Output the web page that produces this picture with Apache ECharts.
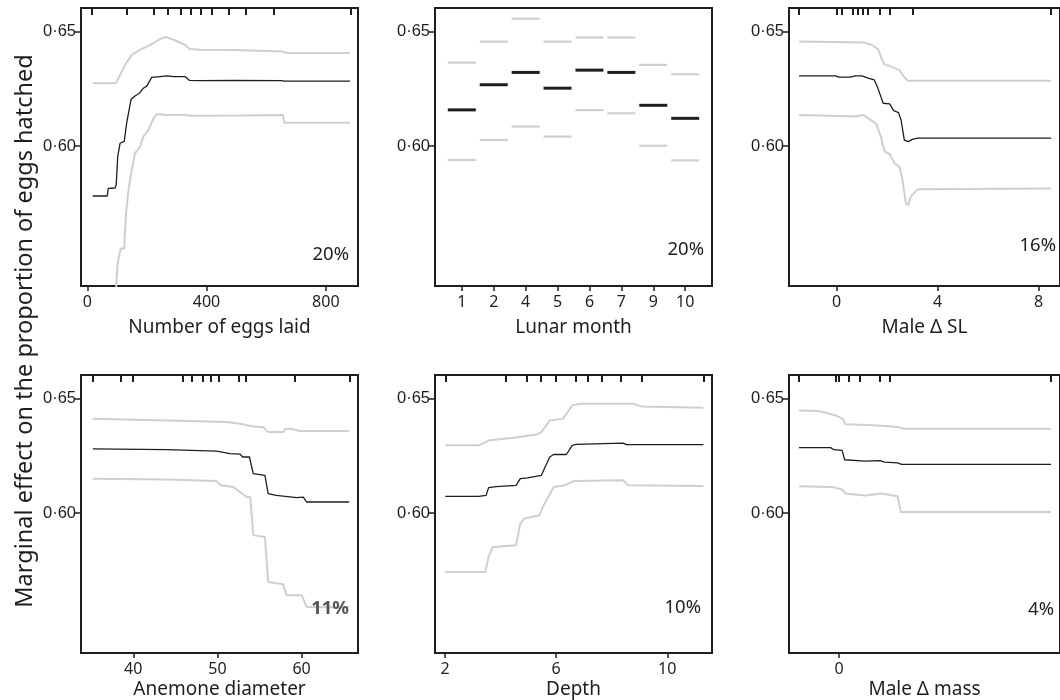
<!DOCTYPE html>
<html>
<head>
<meta charset="utf-8">
<script src="https://cdn.jsdelivr.net/npm/echarts@6/dist/echarts.min.js"></script>
<style>html,body{margin:0;padding:0;background:#fff}#c{width:1060px;height:700px}</style>
</head>
<body>
<div id="c"></div>
<script>
// ---------- DATA ----------
const yTicks = [0.60, 0.65];

// Panel 1: Number of eggs laid
const eggsTicks = [0, 400, 800];
const eggsRug = [16, 134, 222, 271, 312, 346, 379, 419, 473, 530, 624, 883];
const eggsMean = [[18,0.5781],[67,0.5781],[70,0.5814],[93,0.5816],[97,0.583],[102,0.5953],[110,0.6012],[124,0.602],[132,0.610],[147,0.6205],[160,0.6219],[175,0.6231],[188,0.6253],[200,0.6263],[216,0.630],[244,0.6304],[267,0.6307],[289,0.6304],[328,0.6304],[343,0.6287],[379,0.6286],[491,0.6287],[653,0.6286],[660,0.6284],[881,0.6284]];
const eggsUpper = [[18,0.6275],[96,0.6275],[110,0.6311],[127,0.6355],[150,0.640],[177,0.6421],[211,0.6443],[244,0.6468],[265,0.6477],[289,0.6465],[328,0.6443],[343,0.6424],[379,0.6421],[491,0.642],[653,0.6414],[670,0.6407],[881,0.6407]];
const eggsLower = [[96,0.536],[101.6,0.5486],[112,0.5551],[123.6,0.5551],[130,0.5705],[138,0.5807],[149,0.5895],[160,0.5968],[177,0.5997],[188,0.6041],[205,0.607],[222,0.6121],[233,0.614],[267,0.6136],[328,0.6136],[345,0.6132],[435,0.6132],[513,0.6133],[656,0.6136],[661,0.6102],[881,0.6102]];

// Panel 2: Lunar month
const months = ['1','2','4','5','6','7','9','10'];
const lunarMean  = [0.6158, 0.6268, 0.6322, 0.6253, 0.6332, 0.6322, 0.6178, 0.6121];
const lunarUpper = [0.6365, 0.6457, 0.6557, 0.6457, 0.6475, 0.6475, 0.6355, 0.6314];
const lunarLower = [0.5939, 0.6026, 0.6085, 0.6041, 0.6157, 0.6143, 0.6001, 0.5937];

// Panel 3: Male delta SL
const slTicks = [0, 4, 8];
const slRug = [-1.50, 0, 0.19, 0.63, 0.83, 1.02, 1.22, 1.71, 2.10, 3.0, 8.5];
const slMean = [[-1.49,0.6307],[-0.04,0.6307],[0.09,0.6301],[0.54,0.6301],[0.74,0.6307],[1.0,0.6307],[1.25,0.6297],[1.49,0.6289],[1.62,0.6257],[1.75,0.6216],[1.84,0.6187],[2.10,0.6184],[2.26,0.6155],[2.45,0.6146],[2.55,0.6114],[2.68,0.6026],[2.73,0.6019],[2.83,0.6019],[3.0,0.6029],[3.2,0.6034],[8.5,0.6034]];
const slUpper = [[-1.49,0.6457],[1.06,0.6453],[1.38,0.6443],[1.64,0.6424],[1.80,0.6377],[1.90,0.6355],[2.10,0.6351],[2.29,0.6341],[2.49,0.6333],[2.61,0.6311],[2.81,0.6285],[8.5,0.6285]];
const slLower = [[-1.49,0.6136],[0.74,0.6129],[1.06,0.6136],[1.38,0.6111],[1.57,0.6096],[1.75,0.6041],[1.90,0.5975],[2.10,0.5965],[2.29,0.5924],[2.49,0.5909],[2.61,0.5851],[2.74,0.5749],[2.83,0.5741],[2.94,0.5778],[3.2,0.581],[8.5,0.5814]];

// Panel 4: Anemone diameter
const anTicks = [40, 50, 60];
const anRug = [35.13, 38.5, 39.93, 45.87, 47.0, 48.3, 49.2, 50.2, 52.5, 53.4, 59.2, 65.7];
const anMean = [[35.18,0.6281],[43.97,0.6277],[49.9,0.6271],[51.5,0.626],[52.67,0.6258],[53.0,0.6245],[53.8,0.6245],[54.25,0.6172],[55.64,0.6165],[56.03,0.6085],[57.0,0.6077],[57.8,0.6074],[59.4,0.6067],[60.2,0.6069],[60.6,0.6048],[65.65,0.6048]];
const anUpper = [[35.18,0.6413],[47.9,0.6402],[51.1,0.6398],[52.67,0.6391],[54.25,0.6379],[55.44,0.6376],[56.03,0.6354],[57.8,0.6354],[58.13,0.6369],[58.7,0.6369],[59.8,0.6359],[65.65,0.6359]];
const anLower = [[35.18,0.615],[43.97,0.6146],[49.9,0.614],[50.38,0.6121],[51.9,0.6114],[52.67,0.6092],[53.47,0.607],[53.9,0.607],[54.25,0.5903],[55.64,0.5895],[56.03,0.5698],[57.8,0.5688],[58.2,0.564],[60.0,0.564],[60.6,0.5589],[62.2,0.5587],[65.65,0.5587]];

// Panel 5: Depth
const depTicks = [2, 6, 10];
const depRug = [2.01, 4.2, 4.96, 5.46, 5.97, 6.7, 7.14, 7.65, 8.32, 9.07, 11.3];
const depMean = [[2.01,0.6073],[3.21,0.6073],[3.48,0.6077],[3.57,0.6111],[3.84,0.6115],[4.56,0.6121],[4.71,0.615],[4.97,0.6154],[5.47,0.6165],[5.59,0.6198],[5.77,0.6245],[5.91,0.6256],[6.37,0.6256],[6.58,0.6296],[6.72,0.63],[8.41,0.6306],[8.53,0.6299],[11.3,0.6299]];
const depUpper = [[2.01,0.6296],[3.21,0.6296],[3.6,0.6318],[4.56,0.633],[5.29,0.6344],[5.47,0.6354],[5.77,0.6405],[6.25,0.6413],[6.58,0.6471],[6.85,0.6478],[8.77,0.6478],[9.08,0.6466],[11.3,0.6461]];
const depLower = [[2.01,0.5742],[3.45,0.5742],[3.57,0.5808],[3.72,0.5851],[4.56,0.5859],[4.71,0.5954],[4.86,0.5976],[5.40,0.599],[5.52,0.6026],[5.91,0.6114],[6.31,0.6121],[6.63,0.614],[8.41,0.6143],[8.59,0.6121],[11.3,0.6118]];

// Panel 6: Male delta mass
const massTicks = [0];
const massRug = [-1.6, -0.12, -0.01, 0.40, 0.81, 1.62, 2.01, 8.45];
const massMean = [[-1.6,0.6286],[-0.34,0.6286],[-0.21,0.6277],[0.12,0.6274],[0.22,0.6233],[1.03,0.6227],[1.62,0.6229],[1.81,0.6223],[2.33,0.6219],[2.49,0.6213],[8.45,0.6213]];
const massUpper = [[-1.6,0.6449],[-0.79,0.6446],[-0.14,0.6427],[0.14,0.6413],[0.25,0.6388],[1.55,0.6383],[2.33,0.6376],[2.59,0.6369],[8.45,0.6369]];
const massLower = [[-1.6,0.6117],[-0.27,0.6114],[0.14,0.6102],[0.25,0.6085],[1.03,0.6077],[1.68,0.6085],[2.33,0.6073],[2.46,0.6004],[8.45,0.6004]];

const percentLabels = ['20%', '20%', '16%', '11%', '10%', '4%'];
const axisNames = ['Number of eggs laid', 'Lunar month', 'Male \u0394 SL', 'Anemone diameter', 'Depth', 'Male \u0394 mass'];
const yTitle = 'Marginal effect on the proportion of eggs hatched';

// ---------- LAYOUT / STYLE ----------
const INK = '#1e1e1e';
const GREY = '#cfcfcf';
const lefts = [81, 435, 789];
const tops = [8, 375];
const W = 277, H = 278;
const panels = [
  {min:-21.1, max:908, ticks:eggsTicks, rug:eggsRug, lines:[eggsUpper, eggsLower, eggsMean]},
  {min:0.16, max:8.84, ticks:months.map((m,i)=>i+1), rug:null, cat:true},
  {min:-1.89, max:8.85, ticks:slTicks, rug:slRug, lines:[slUpper, slLower, slMean]},
  {min:33.79, max:66.7, ticks:anTicks, rug:anRug, lines:[anUpper, anLower, anMean]},
  {min:1.64, max:11.61, ticks:depTicks, rug:depRug, lines:[depUpper, depLower, depMean]},
  {min:-2, max:8.81, ticks:massTicks, rug:massRug, lines:[massUpper, massLower, massMean]}
];
const pctPos = [[349,255],[704,250],[1056,246],[349,609],[701,608],[1054,610]];

const grid = [], xAxis = [], yAxis = [], series = [], graphic = [];
panels.forEach((p, i) => {
  const row = Math.floor(i / 3), col = i % 3;
  grid.push({left: lefts[col], top: tops[row], width: W, height: H, show: true, borderColor: INK, borderWidth: 2, containLabel: false});
  xAxis.push({
    type: 'value', gridIndex: i, position: 'bottom', min: p.min, max: p.max,
    axisLine: {show: true, onZero: false, lineStyle: {color: INK, width: 2}},
    axisTick: {show: true, customValues: p.ticks, length: 5, lineStyle: {color: INK, width: 1.5}},
    axisLabel: {show: true, customValues: p.ticks, margin: 8, color: INK, fontSize: 16, fontFamily: 'Noto Sans',
      formatter: p.cat ? (v => months[Math.round(v) - 1]) : (v => String(v))},
    splitLine: {show: false},
    name: axisNames[i], nameLocation: 'middle', nameGap: row === 0 ? 32 : 27,
    nameTextStyle: {fontSize: 19, fontFamily: 'Noto Sans', color: INK}
  });
  xAxis.push({
    type: 'value', gridIndex: i, position: 'top', min: p.min, max: p.max,
    axisLine: {show: true, onZero: false, lineStyle: {color: INK, width: 2}},
    axisTick: {show: !!p.rug, customValues: p.rug || [], inside: true, length: 7, lineStyle: {color: INK, width: 2}},
    axisLabel: {show: false}, splitLine: {show: false}
  });
  yAxis.push({
    type: 'value', gridIndex: i, min: 0.5387, max: 0.6604,
    axisLine: {show: true, onZero: false, lineStyle: {color: INK, width: 2}},
    axisTick: {show: true, customValues: yTicks, length: 6, lineStyle: {color: INK, width: 1.5}},
    axisLabel: {show: true, customValues: yTicks, margin: 5, color: INK, fontSize: 16.5, fontFamily: 'Liberation Sans',
      formatter: v => v.toFixed(2).replace('.', '\u00b7')},
    splitLine: {show: false}
  });
  const xi = i * 2;
  if (p.cat) {
    [[lunarUpper, GREY, 2.2], [lunarLower, GREY, 2.2], [lunarMean, INK, 3]].forEach(([arr, c, h]) => {
      series.push({type: 'scatter', xAxisIndex: xi, yAxisIndex: i, symbol: 'rect', symbolSize: [28, h],
        itemStyle: {color: c, opacity: 1}, silent: true, data: arr.map((v, k) => [k + 1, v])});
    });
  } else {
    p.lines.forEach((arr, k) => {
      const mean = k === 2;
      series.push({type: 'line', xAxisIndex: xi, yAxisIndex: i, data: arr, showSymbol: false, symbol: 'none',
        clip: true, silent: true, z: mean ? 3 : 2,
        lineStyle: {color: mean ? INK : GREY, width: mean ? 1.3 : 2}});
    });
  }
  graphic.push({type: 'text', x: pctPos[i][0], y: pctPos[i][1], z: 10,
    style: {text: percentLabels[i], align: 'right', verticalAlign: 'middle',
      font: (i === 3 ? 'bold ' : '') + '18.5px "Noto Sans"', fill: i === 3 ? '#555' : INK}});
});
graphic.push({type: 'text', x: 25, y: 331, rotation: Math.PI / 2,
  style: {text: yTitle, align: 'center', verticalAlign: 'middle', font: '23.5px "Noto Sans"', fill: INK}});

const chart = echarts.init(document.getElementById('c'), null, {renderer: 'canvas'});
chart.setOption({animation: false, backgroundColor: '#fff', grid, xAxis, yAxis, series, graphic});
</script>
</body>
</html>
